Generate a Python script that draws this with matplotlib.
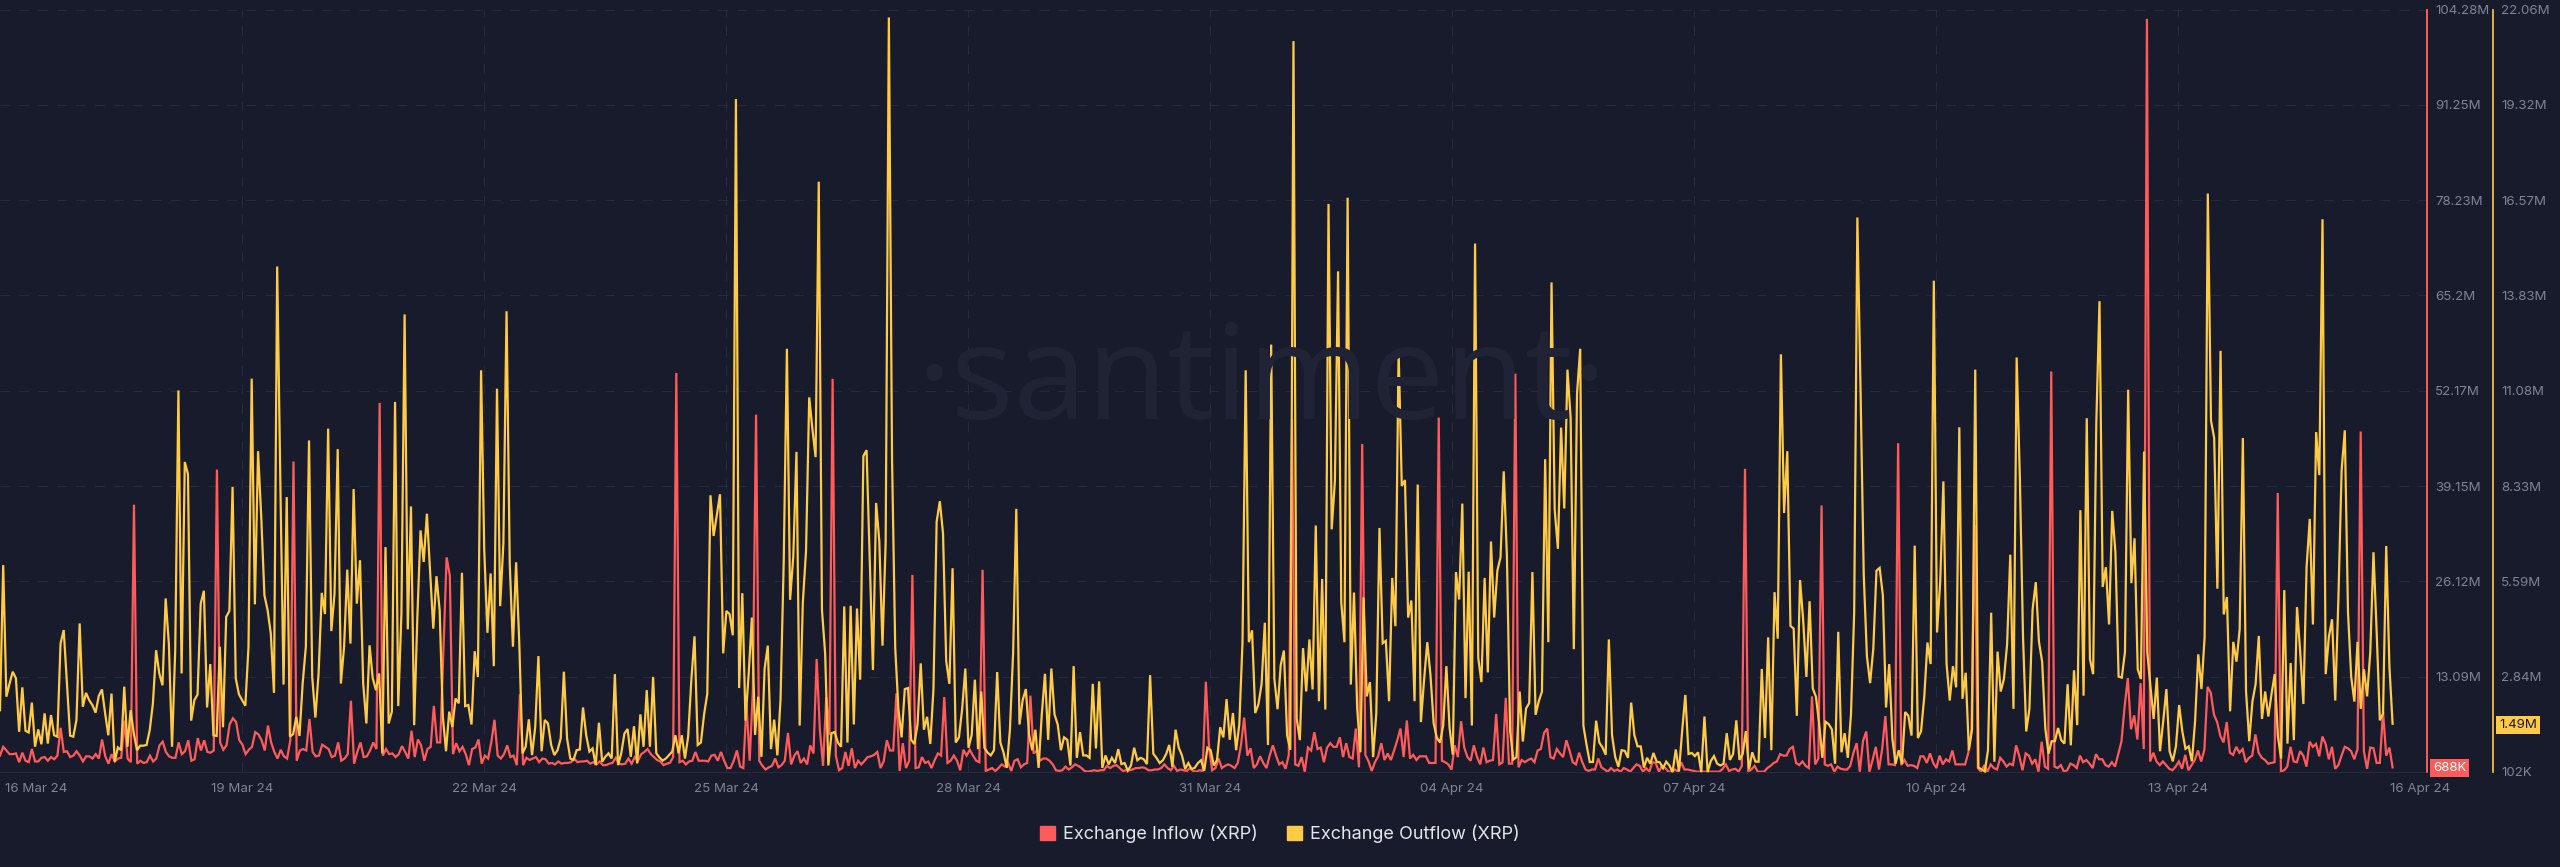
import numpy as np
import matplotlib
matplotlib.use('Agg')
import matplotlib.pyplot as plt
from matplotlib.patches import Patch

BG = '#181b2b'
GRID = '#262a3d'
RED = '#ff5b5b'
YELLOW = '#ffcb47'
MUTED = '#7d8499'

plt.rcParams['font.family'] = ['Inter', 'DejaVu Sans']

date_labels = ['16 Mar 24', '19 Mar 24', '22 Mar 24', '25 Mar 24', '28 Mar 24', '31 Mar 24',
               '04 Apr 24', '07 Apr 24', '10 Apr 24', '13 Apr 24', '16 Apr 24']
date_hours = [11.3, 75.3, 150.5, 225.8, 301.0, 376.3, 451.5, 526.8, 602.0, 677.2, 752.5]

inflow_ticks = [104.28, 91.25, 78.23, 65.2, 52.17, 39.15, 26.12, 13.09]
inflow_labels = ['104.28M', '91.25M', '78.23M', '65.2M', '52.17M', '39.15M', '26.12M', '13.09M']
outflow_ticks = [22.06, 19.32, 16.57, 13.83, 11.08, 8.33, 5.59, 2.84, 0.102]
outflow_labels = ['22.06M', '19.32M', '16.57M', '13.83M', '11.08M', '8.33M', '5.59M', '2.84M', '102K']

# hourly, millions of XRP
outflow = [
    1.88, 6.06, 2.27, 2.65, 2.99, 2.80, 1.26, 2.54, 1.29, 1.24, 2.10, .83, 1.33, .90, 1.79, .92, 1.74, 1.16, 1.12, 3.80,
    4.19, 2.65, 1.15, 1.12, 1.60, 4.38, 1.98, 2.38, 2.17, 2.03, 1.81, 2.29, 2.48, 1.79, 1.16, 2.36, .40, .81, .73, 2.56,
    .83, 1.88, 1.21, .73, .86, .86, .88, 1.31, 2.08, 3.61, 2.94, 2.60, 5.10, 3.80, .83, 3.61, 11.09, 2.94, 9.03, 8.68,
    1.58, 2.17, 2.33, 4.95, 5.32, 1.96, 3.21, 1.16, 1.14, 3.71, 1.39, 4.57, 4.74, 8.31, 2.80, 2.34, 2.17, 2.01, 3.71, 11.43,
    4.93, 9.34, 7.45, 5.19, 4.76, 4.09, 2.38, 14.66, 8.41, 2.62, 8.02, 1.12, 1.19, 1.69, 1.14, 2.65, 3.71, 9.65, 2.84, 1.67,
    2.94, 5.26, 4.65, 9.99, 4.16, 5.24, 9.40, 2.65, 3.71, 5.93,
    3.80, 8.25, 4.95, 6.20, 2.65, 1.50, 3.75, 2.80, 2.46, 2.94, .64, 6.58, 1.50, 1.84, 10.76, 2.00, 4.67, 13.28, 4.21, 7.75,
    1.45, 4.57, 7.06, 6.15, 7.54, 5.91, 4.23, 5.74, 4.76, 1.69, .70, 1.84, 1.40, 2.22, 2.08, 5.84, 2.00, 2.03, 1.47, 3.58,
    2.84, 11.67, 6.49, 4.11, 5.82, 3.15, 11.14, 4.88, 6.68, 13.37, 6.10, 3.71, 6.14, 3.80, .64, .83, 1.62, .59, 1.40, 3.44,
    .70, 1.60, 1.50, .88, .59, .73, 1.07, 2.99, 1.07, .49, .45, .73, .75, 1.96, 1.16, .69, .78, .30, 1.52, .40,
    .54, .64, .49, 2.92, .30, .64, 1.21, 1.34, .54, 1.42, .35, 1.76, .83, 2.46, .83, 2.84, .64, .52, .43, .49,
    .59, .69, 1.16, .64, 1.16, .49, 1.12, 2.75, 4.01, .88,
    .95, 1.76, 2.35, 8.07, 6.90, 7.49, 8.10, 3.52, 4.74, 4.65, 4.04, 19.48, 2.52, 5.25, 1.58, 2.93, 4.55, 1.17, 2.27, .54,
    3.08, 3.74, .76, 1.61, .58, 2.20, 6.16, 12.29, 5.06, 6.31, 9.32, 1.44, 4.99, 6.46, 10.89, 9.98, 9.17, 17.10, 4.77, 3.52,
    .29, 1.22, 1.25, .95, .83, 4.87, .95, 4.89, 1.47, 4.81, 2.76, 9.20, 9.37, 6.16, 3.04, 7.85, 6.75, 3.74, 6.75, 21.83,
    9.10, 3.67, 1.91, 1.10, 2.49, 2.52, 1.03, .91, 1.47, 3.23, 1.32, 1.69, .91, 2.49, 7.31, 7.90, 6.97, 3.30, 2.64, 5.97,
    .95, 1.10, 1.91, 3.08, .80, 1.17, 2.76, .76, 2.42, .80, .66, .58, .73, 2.98, .95, .66, .22, 1.32, 3.52, 7.68,
    1.47, 2.17, 2.49, 1.17, .73, 1.32, .22, 1.76, 2.93, 1.03, 3.08, 1.76, 1.47, .73, 1.10, 1.03, .29, 3.15, .51, 1.25,
    .58, .58, .51, 2.64, .78, 2.71, .22, .58, .32, .51, .36, .76, .33, .36, .14, .29, .80, .44, .51, .47,
    .33, 2.89, .63, .51, .36, .44, .61, .88, .25, 1.32, .80, .58, .19, .36, .19, .22, .36, .44, .14, .80,
    .73, .29, .44, 1.39, 1.10, 2.20, 1.03, 1.80, .73, 1.47, 3.82, 11.67, 3.84, 4.18, 1.80, 2.05, 2.64, 4.40, .88, 12.41,
    2.79, 1.91,
    3.18, 3.60, 1.16, .74, 21.15, 1.65, 1.02, 3.67, 2.42, 3.92, 2.48, 7.20, 2.14, 5.66, 1.90, 16.46, 7.09, 8.48, 14.52, 5.00,
    3.84, 16.64, 2.62, 5.27, 1.93, .67, 5.13, 2.28, 2.69, .53, 1.79, 7.13, 3.81, 3.88, 2.14, 5.69, 4.30, 12.25, 8.34, 8.51,
    4.55, 5.04, 2.14, 8.38, 1.54, 2.76, 3.84, 2.90, 1.51, 1.09, .95, 1.44, 3.15, 1.37, .60, 5.86, 5.07, 7.83, 2.23, 5.87,
    1.44, 15.32, 3.39, 2.69, 5.69, 2.97, 6.74, 4.55, 5.90, 6.29, 8.76, 6.32, 1.30, .46, .53, 2.42, .98, 1.93, 2.09, 5.86,
    1.75, 2.14, 2.42, 9.11, 3.84, 14.20, 7.65, 6.53, 10.02, 7.69, 11.69, 10.30, 3.64, 10.99, 12.29, 1.44, .88, .39, .39, 1.58,
    .95, .81, .60, 3.92, 1.16, .53, .25,
    .73, .71, .51, 2.10, 1.17, .84, .84, .23, .51, .34, .65, .40, .38, .21, .40, .29, .10, .75, .12, 1.28,
    2.32, .62, .65, .56, .67, .10, 1.70, .10, .42, .56, .34, .29, .34, 1.22, .45, .62, 1.59, .45, .62, 1.28,
    .18, .67, .40, .40, 3.07, 1.08, 3.98, .73, 5.28, 3.94, 12.13, 7.56, 9.34, 4.31, 4.23, 1.72, 5.63, 4.47, 2.84, 5.02,
    2.51, 2.27, 1.50, .51, 1.55, 1.48, 1.33, .34, 4.14, .67, 1.22, .51, 1.77, 4.69, 16.07, 11.08, 5.79, 3.43, 2.66, 3.65,
    5.90, 5.98, 5.19, 1.96, 3.21, 1.06, .34, .73, .34, 1.83, 1.72, 1.15, 6.62, 1.08, 1.28, 2.27, 3.83, 3.21, 14.25, 4.12,
    5.57, 8.47, 3.21, 2.16, 3.15, 2.54, 10.03, 2.21, 2.96, .73, 1.33, 11.69, .23, .18, .12, .73, 4.69, .40, 3.57,
    2.42, 2.78, 3.78, 6.36, 1.92, 12.04, 8.58, 3.99, 1.27, 1.92, 4.78, 5.57, 3.85, 3.28, 1.35, .63, .99, .99, 1.37, 1.02,
    .92, 2.63, .87, 3.03, 1.45, 7.64, 2.30, 10.29, 3.35, 2.92, 10.15, 13.66, 5.43, 6.00, 4.35, 7.62, 6.43, 2.85, 2.82, 3.56,
    11.11, 5.54, 6.83, 3.06, 2.78, 9.33, 3.56, 2.56, 1.63, 2.82, .70, 1.56, 2.49, .70, .41, .84, 2.03, 1.27, .77, .84,
    .41, 1.56, 3.49, 2.49, 3.99, 16.76, 10.22, 9.72, 5.38, 12.23, 4.64, 5.14, 1.85, 3.85, 3.28, 4.21, 9.72, 2.42, .99, 2.13,
    2.63, 4.02, 1.63, 2.42, 1.70, 2.35, 2.92, 1.13, .49, 5.34, .92, 3.24, 1.02, 4.85, 3.56, 2.06, 6.00, 7.39, 4.35, 9.89,
    8.65, 16.02, 2.92, 3.99, 4.50, 2.16, 5.14, 8.79, 9.94, 4.71, 2.85, 2.13, 3.85, 1.92, 3.06, 2.28, 3.56, 6.43, 4.14, 1.59,
    1.78, 6.61, 3.14, 1.49,
]

inflow = [
    2.3, 3.5, 3.0, 2.5, 2.5, 2.6, 1.4, 2.7, 1.6, 1.4, 3.2, 1.5, 1.5, 2.0, 2.1, 1.6, 2.1, 1.8, 2.3, 6.1,
    2.8, 2.9, 2.1, 2.3, 2.9, 2.3, 1.5, 2.2, 2.2, 1.9, 2.5, 1.9, 4.5, 2.2, 1.2, 2.5, 1.5, 1.9, 2.0, 7.1, 1.9,
    1.4, 36.6, 1.2, 1.6, 1.3, 1.4, 2.3, 1.5, 1.9, 3.7, 4.2, 2.8, 2.2, 2.0, 2.0, 4.1, 2.5, 2.9, 4.4, 1.6,
    1.8, 4.7, 3.0, 4.4, 2.8, 2.7, 3.0, 41.4, 4.1, 3.1, 3.7, 6.6, 7.4, 6.9, 4.4, 3.8, 2.5, 3.1, 3.5, 5.5,
    5.2, 4.4, 3.0, 6.4, 4.1, 2.8, 1.9, 3.1, 2.2, 1.9, 4.4, 42.5, 1.6, 3.0, 3.2, 3.0, 7.3, 2.8, 2.2, 2.3,
    3.8, 3.5, 3.2, 2.1, 2.3, 4.1, 1.6, 1.9, 2.5,
    9.8, 1.2, 2.8, 4.1, 2.1, 2.2, 3.0, 4.1, 3.2, 50.5, 2.3, 3.2, 2.5, 2.6, 2.1, 2.5, 3.6, 2.8, 1.9, 5.7,
    2.1, 4.5, 3.7, 1.6, 3.2, 3.5, 9.1, 4.1, 4.1, 16.6, 29.4, 26.9, 2.5, 4.0, 2.9, 3.5, 2.5, 1.0, 3.2, 3.4,
    4.5, 1.2, 2.3, 1.9, 4.1, 7.2, 2.3, 1.9, 2.5, 3.7, 2.1, 2.3, 1.0, 10.7, 1.0, 2.0, 1.7, 1.9, 2.1, 1.4,
    1.9, 1.8, 1.2, 1.3, 1.1, 1.5, 1.2, 1.3, 1.3, 1.4, 1.9, 1.4, 1.5, 1.5, 1.6, 1.2, 1.4, 1.1, 1.5, 1.0,
    1.0, 1.2, 1.3, 2.0, 1.2, 1.1, 1.2, 1.9, 1.2, 2.1, 1.6, 2.5, 2.8, 3.2, 2.5, 2.1, 1.7, 1.5, 1.0, 1.2,
    1.3, 2.1, 54.6, 1.4, 1.6, 1.1, 1.5, 1.6, 2.8, 1.6,
    1.6, 1.6, 1.5, 2.3, 2.4, 1.6, 2.8, 1.6, .6, .6, 1.6, 3.0, .8, .6, 9.3, 1.6, 11.3, 48.9, 1.6, .9,
    .4, .7, .9, 1.9, .7, 1.0, 1.6, 5.4, 1.1, 2.3, 2.9, 1.3, 1.9, 1.1, 3.7, 2.6, 15.5, 5.8, .9, 10.3,
    5.1, 53.8, 2.3, .3, .6, 2.8, .9, 3.3, .6, 1.6, 1.1, 1.6, 2.1, 2.2, 2.4, 2.8, .6, 1.5, 4.4, 3.0,
    3.0, 10.8, .2, 4.0, .6, 1.6, 27.0, .6, .7, 2.1, 1.3, 1.5, .6, 1.7, 2.6, 2.3, 10.3, 1.3, 1.6, 2.3,
    1.6, .3, 3.1, 2.3, 3.1, 2.3, 1.6, 1.4, 27.7, .2, .4, .6, .2, .6, 1.1, .8, 1.3, .2, 1.6, 1.8,
    .7, 1.1, 1.3, 10.5, 2.6, 3.0, 1.6, 1.9, 1.9, 1.6, 1.1, .3, .2, .3, .8, .4, .7, 1.1, .9, .6,
    .2, .1, .2, .3, .2, .3, .3, .9, .6, .9, 1.0, .6, .2, .3, .3, .4, .6, .6, .7,
    .6, .3, .3, .4, .4, .6, 1.1, .6, .3, .9, .2, .4, .3, .2, .6, .2, .1, .3, .2, 12.4,
    3.3, .3, .6, 1.9, .6, .9, 1.1, .9, .6, 1.3, 3.7, 7.5, 2.3, 3.3, .6, 1.1, 2.2, 1.3, .6, 2.3,
    3.7, 2.3,
    1.1, 1.4, .5, 2.4, 48.3, 1.1, .9, 2.1, .1, 3.4, 3.0, 5.5, 3.2, 3.4, 1.4, 3.4, 4.0, 3.5, 3.5, 4.8,
    2.1, 4.0, 2.1, 1.9, 6.0, .7, 44.9, 2.4, 1.5, .2, 1.4, 2.2, 4.0, 1.7, 2.6, 1.7, 3.0, 4.4, 6.0, 2.1,
    7.1, 1.9, 2.4, 1.7, 2.2, 2.2, 2.2, 1.3, 1.3, 1.3, 48.5, 1.6, 1.4, 1.1, .4, 3.7, 2.1, 7.0, 3.4, 2.1,
    1.6, 3.7, 2.1, 1.1, 3.4, 1.4, 1.6, 1.7, 8.0, 1.1, 1.4, 10.2, 1.2, 1.2, 54.5, .7, 1.7, 1.4, 1.7, 1.9,
    1.4, 3.0, 3.2, 5.4, 6.0, 2.1, 1.9, 3.2, 2.6, 2.1, 4.4, 3.0, 1.4, 1.1, 2.7, 1.4, .4, .2, .4, .4,
    1.9, .7, .4, .1, .6, .2, .4,
    .1, .6, .4, .1, .6, 1.1, .9, .1, .6, .1, 1.4, 1.3, .1, .9, .6, .1, .1, .4, .1, 1.4,
    .4, .4, .3, .2, .1, .1, .1, .1, .1, .1, .1, .1, .5, 1.1, .2, .4, .5, .1, .9, 41.5,
    .1, .4, .9, .1, .1, .1, .6, .9, 1.3, 1.5, 2.5, 2.3, 2.3, 3.2, 3.5, 1.3, 1.0, 1.5, .9, .6,
    10.4, 1.1, 1.9, 36.5, 1.1, .9, 1.1, .1, .8, .5, .4, .4, .9, 2.7, 4.0, .1, 4.3, 5.6, .1, 1.7,
    3.5, .4, 3.2, 7.7, 1.1, 1.1, 1.0, 45.0, 1.0, 1.7, .9, 1.0, .9, .6, 2.2, 2.2, 1.3, 2.6, 1.3, .6,
    2.3, 1.1, 1.8, 1.5, 3.0, 1.1, 1.1, 1.1, 1.1, 2.7, 5.8, 33.8, .6, .1, 1.0, .1, 1.1, .6, .4,
    2.0, 1.5, .8, 1.2, 1.0, 3.7, 2.2, .3, 2.6, 2.3, 1.2, 1.8, .1, 4.2, .8, .5, 54.8, .8, .6, 1.0,
    .1, .3, 1.2, 1.0, .6, 2.3, 1.4, 1.7, 1.2, .6, 2.5, 1.8, 1.8, 1.0, .8, 1.4, .8, 2.5, 4.2, 9.0,
    12.9, 5.9, 7.8, 4.5, 12.2, 3.2, 103.0, 1.5, 2.7, 1.5, 1.0, 1.5, 1.0, .5, .3, .8, 1.5, .5, 2.4, .3,
    1.0, 1.7, 3.0, 1.5, 3.1, 11.7, 10.9, 7.9, 6.9, 5.0, 4.1, 6.9, 2.7, 2.4, 3.5, 2.7, 3.2, 1.4, 2.0, 2.3,
    5.2, 2.7, 2.0, 1.7, 1.2, 1.3, 1.4, 38.2, .1, .3, .8, 3.5, 1.5, 1.4, 2.9, 2.3, .8, 4.2, 3.5, 3.9,
    2.2, 4.9, 3.9, 1.8, 3.5, .5, 1.0, 2.3, 3.5, 3.3, 2.9, 1.8, 3.2, 46.6, 2.9, .5, 3.4, 3.3, 1.3, 1.3,
    8.3, 2.3, 3.4, .69,
]

fig = plt.figure(figsize=(25.6, 8.67), dpi=100, facecolor=BG)
ax = fig.add_axes([0, 1 - 772 / 867, 2427 / 2560, (772 - 9.5) / 867], facecolor='none')
ax2 = ax.twinx()
# has to come before the tick setup, set_position resets the ticks
ax2.spines['right'].set_position(('outward', 47.5))

hours_in = np.linspace(0, 744, len(inflow))
hours_out = np.linspace(0, 744, len(outflow))
ax.plot(hours_in, inflow, color=RED, lw=1.6, solid_joinstyle='miter', clip_on=False)
ax2.plot(hours_out, outflow, color=YELLOW, lw=1.6, solid_joinstyle='miter', clip_on=False)

ax.set_xlim(0, 754.7)
ax.set_ylim(0.06, 104.28)
ax2.set_ylim(0.102, 22.06)

ax.set_xticks(date_hours)
ax.set_xticklabels(date_labels, fontsize=9.6, color=MUTED)
ax.tick_params(axis='x', length=0, pad=8)
ax.yaxis.tick_right()
ax.set_yticks(inflow_ticks)
ax.set_yticklabels(inflow_labels, fontsize=9.6, color=MUTED)
ax.tick_params(axis='y', length=0, pad=6)
ax2.set_yticks(outflow_ticks)
ax2.set_yticklabels(outflow_labels, fontsize=9.6, color=MUTED)
ax2.tick_params(axis='y', length=0, pad=6)

ax.set_axisbelow(True)
ax.grid(axis='y', color=GRID, lw=0.8, linestyle=(0, (9, 8)))
ax.vlines(date_hours[1:-1], 0.06, 104.28, color=GRID, lw=0.8, linestyle=(0, (9, 8)), zorder=0)

for s in ['top', 'left']:
    ax.spines[s].set_visible(False)
    ax2.spines[s].set_visible(False)
ax.spines['bottom'].set_color(GRID)
ax2.spines['bottom'].set_visible(False)
ax2.spines['right'].set_color(YELLOW)
ax2.spines['right'].set_linewidth(1.2)
ax.spines['right'].set_color(RED)
ax.spines['right'].set_linewidth(1.2)

# second red axis line, twin hides the first one
ax2.axvline(754.7, color=RED, lw=1.2, clip_on=False)

fig.text(1262 / 2560, 1 - 385 / 867, '·santiment·', fontsize=95, color='#1f2335', ha='center', va='center',
         family=['Open Sans', 'DejaVu Sans'], zorder=0)

ax.annotate('688K', xy=(1, inflow[-1] / 104.28), xycoords='axes fraction', xytext=(6, -1), textcoords='offset pixels',
            ha='left', va='center', fontsize=9.6, color='white',
            bbox=dict(boxstyle='square,pad=0.22', fc=RED, ec='none'), annotation_clip=False, zorder=10)
ax2.annotate('1.49M', xy=(754.7, outflow[-1]), xycoords='data', xytext=(72, -1), textcoords='offset pixels',
             ha='left', va='center', fontsize=9.6, color='#181b2b',
             bbox=dict(boxstyle='square,pad=0.22', fc=YELLOW, ec='none'), annotation_clip=False, zorder=10)

handles = [Patch(color=RED, label='Exchange Inflow (XRP)'), Patch(color=YELLOW, label='Exchange Outflow (XRP)')]
fig.legend(handles=handles, loc='center', bbox_to_anchor=(0.5, 1 - 834 / 867), ncol=2, frameon=False, fontsize=13,
           labelcolor='#e4e6ee', handlelength=0.85, handleheight=0.85, handletextpad=0.45, columnspacing=1.6)

fig.savefig('out.png', dpi=100, facecolor=BG)
